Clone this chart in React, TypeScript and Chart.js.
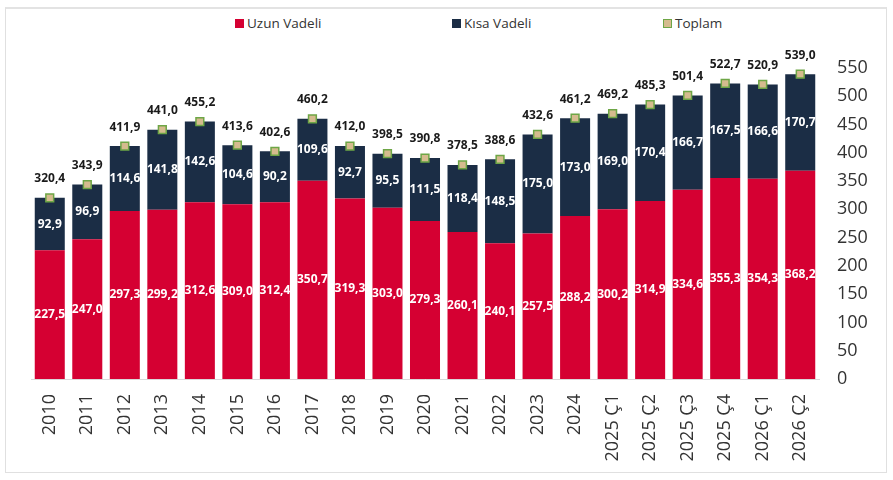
import { useEffect, useRef } from "react";
import { Chart, registerables } from "chart.js";

Chart.register(...registerables);

const periods = [
  "2010", "2011", "2012", "2013", "2014", "2015", "2016", "2017", "2018", "2019",
  "2020", "2021", "2022", "2023", "2024",
  "2025 Ç1", "2025 Ç2", "2025 Ç3", "2025 Ç4", "2026 Ç1", "2026 Ç2",
];

const uzunVadeli = [
  227.5, 247.0, 297.3, 299.2, 312.6, 309.0, 312.4, 350.7, 319.3, 303.0,
  279.3, 260.1, 240.1, 257.5, 288.2, 300.2, 314.9, 334.6, 355.3, 354.3, 368.2,
];

const kisaVadeli = [
  92.9, 96.9, 114.6, 141.8, 142.6, 104.6, 90.2, 109.6, 92.7, 95.5,
  111.5, 118.4, 148.5, 175.0, 173.0, 169.0, 170.4, 166.7, 167.5, 166.6, 170.7,
];

const toplam = [
  320.4, 343.9, 411.9, 441.0, 455.2, 413.6, 402.6, 460.2, 412.0, 398.5,
  390.8, 378.5, 388.6, 432.6, 461.2, 469.2, 485.3, 501.4, 522.7, 520.9, 539.0,
];

const seriesNames = ["Uzun Vadeli", "Kısa Vadeli", "Toplam"];

const Y_MAX = 550;
const Y_STEP = 50;

const RED = "#d50032";
const NAVY = "#1b2d45";
const MARK_FILL = "#d5bb8e";
const MARK_BORDER = "#6ea646";

const fmt = (v: number) => v.toFixed(1).replace(".", ",");

// draws the numbers inside the bars and above the total markers
const valueLabels = {
  id: "valueLabels",
  afterDatasetsDraw(chart: Chart) {
    const ctx = chart.ctx;
    ctx.save();
    ctx.textAlign = "center";
    ctx.textBaseline = "middle";
    ctx.font = "bold 12px 'Open Sans'";
    chart.data.datasets.forEach((ds, di) => {
      const meta = chart.getDatasetMeta(di);
      meta.data.forEach((el: any, i: number) => {
        const v = ds.data[i] as number;
        if (meta.type === "bar") {
          const { x, y, base } = el.getProps(["x", "y", "base"], true);
          ctx.fillStyle = "#ffffff";
          ctx.fillText(fmt(v), x, (y + base) / 2);
        } else {
          ctx.fillStyle = "#1a1a1a";
          ctx.fillText(fmt(v), el.x, el.y - 19);
        }
      });
    });
    ctx.restore();
  },
};

function DebtChart() {
  const canvasRef = useRef<HTMLCanvasElement>(null);
  const chartRef = useRef<Chart | null>(null);

  useEffect(() => {
    if (!canvasRef.current) return;
    if (chartRef.current) chartRef.current.destroy();

    chartRef.current = new Chart(canvasRef.current, {
      type: "bar",
      data: {
        labels: periods,
        datasets: [
          {
            type: "line",
            label: seriesNames[2],
            data: toplam,
            showLine: false,
            pointStyle: "rect",
            pointRadius: 5.5,
            pointBackgroundColor: MARK_FILL,
            pointBorderColor: MARK_BORDER,
            pointBorderWidth: 1.5,
            stack: "total",
            order: 0,
          },
          {
            label: seriesNames[0],
            data: uzunVadeli,
            backgroundColor: RED,
            stack: "debt",
            order: 1,
          },
          {
            label: seriesNames[1],
            data: kisaVadeli,
            backgroundColor: NAVY,
            stack: "debt",
            order: 1,
          },
        ] as any,
      },
      options: {
        animation: false,
        responsive: true,
        maintainAspectRatio: false,
        layout: { padding: { left: 31, top: 68, right: 0, bottom: 0 } },
        datasets: {
          bar: { categoryPercentage: 1, barPercentage: 0.8 },
        },
        scales: {
          x: {
            stacked: true,
            grid: { display: false, drawTicks: false },
            border: { color: "#d9d9d9", width: 1 },
            ticks: {
              autoSkip: false,
              minRotation: 90,
              maxRotation: 90,
              padding: 15,
              color: "#333333",
              font: { family: "'Open Sans'", size: 18 },
            },
            afterFit: (s: any) => {
              s.height = 101;
            },
          },
          y: {
            stacked: true,
            position: "right",
            min: 0,
            max: Y_MAX,
            grid: { display: false, drawTicks: false },
            border: { display: false },
            ticks: {
              stepSize: Y_STEP,
              padding: 18,
              color: "#333333",
              font: { family: "'Open Sans'", size: 18 },
            },
            afterFit: (s: any) => {
              s.width = 74;
            },
          },
        },
        plugins: {
          legend: { display: false },
          tooltip: { enabled: false },
        },
      },
      plugins: [valueLabels],
    });

    return () => {
      if (chartRef.current) {
        chartRef.current.destroy();
        chartRef.current = null;
      }
    };
  }, []);

  return <canvas ref={canvasRef} />;
}

const legendItems = [
  { name: seriesNames[0], left: 235, fill: RED, border: RED },
  { name: seriesNames[1], left: 452, fill: NAVY, border: NAVY },
  { name: seriesNames[2], left: 663, fill: MARK_FILL, border: MARK_BORDER },
];

export default function App() {
  return (
    <div
      style={{
        position: "absolute",
        left: 0,
        top: 0,
        width: 893,
        height: 480,
        background: "#ffffff",
        fontFamily: "'Open Sans', sans-serif",
      }}
    >
      <div
        style={{
          position: "absolute",
          left: 5,
          top: 7,
          width: 882,
          height: 466,
          border: "1px solid #e0e0e0",
          borderTop: "2px solid #e3e3e3",
          boxSizing: "border-box",
        }}
      />
      {legendItems.map((it) => (
        <div
          key={it.name}
          style={{
            position: "absolute",
            left: it.left,
            top: 14,
            height: 18,
            display: "flex",
            alignItems: "center",
            fontSize: 13.5,
            color: "#333333",
            whiteSpace: "nowrap",
          }}
        >
          <span
            style={{
              display: "inline-block",
              width: 7,
              height: 7,
              background: it.fill,
              border: `1px solid ${it.border}`,
              marginRight: 3,
            }}
          />
          {it.name}
        </div>
      ))}
      <div style={{ position: "absolute", left: 0, top: 0, width: 893, height: 480 }}>
        <DebtChart />
      </div>
    </div>
  );
}
